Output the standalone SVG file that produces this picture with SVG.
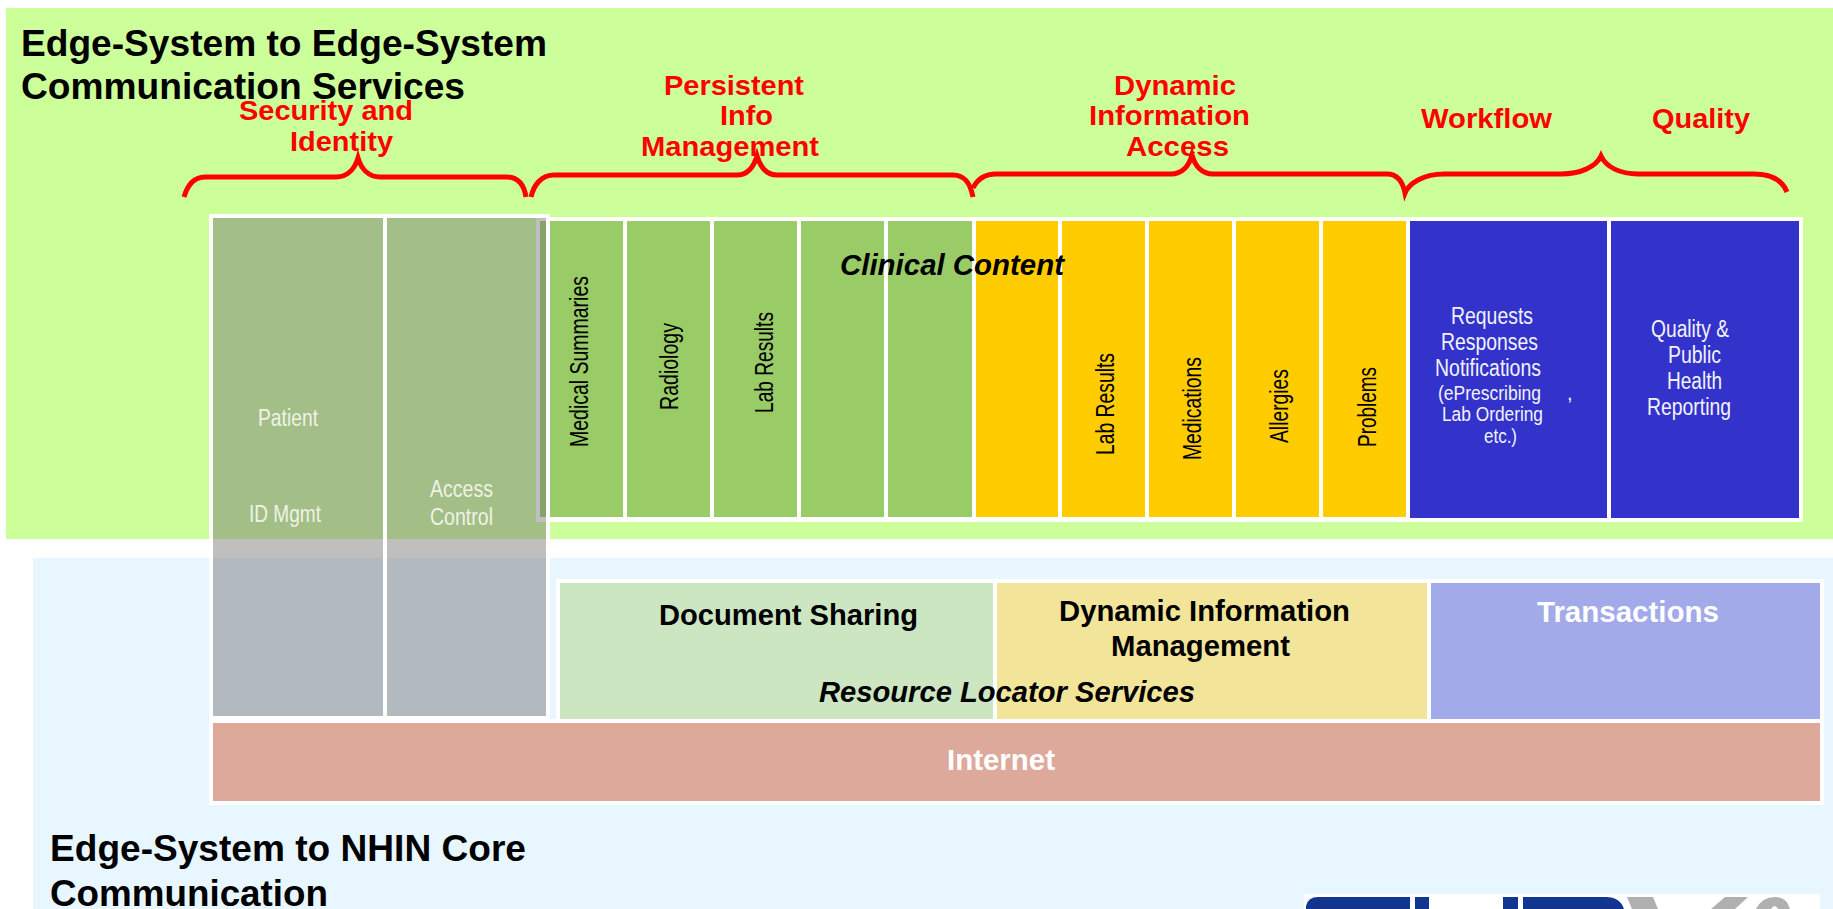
<svg xmlns="http://www.w3.org/2000/svg" width="1833" height="909" viewBox="0 0 1833 909">
<style>
text{font-family:"Liberation Sans",Arial,sans-serif}
.h{font-weight:bold;font-size:37px;fill:#000}
.r{font-weight:bold;font-size:28px;fill:#f00}
.b{font-weight:bold;font-size:29px;fill:#000}
.w{font-weight:bold;font-size:29px;fill:#fff}
.i{font-weight:bold;font-style:italic;font-size:29px;fill:#000}
.v{font-size:25px;fill:#000}
.t{font-size:23px;fill:#f2f2fa}
.s{font-size:20px;fill:#f2f2fa}
.g{font-size:23px;fill:#eef3e6}
.gc{fill:#9c6}.yc{fill:#fc0}.bc{fill:#33c}
.ov{fill:#717171;fill-opacity:.45}
.wf{fill:#fff}
.br{fill:none;stroke:#f00;stroke-width:5}
</style>
<rect id="bg-upper" x="6" y="8" width="1827" height="531" fill="#cf9"/>
<rect id="bg-lower" x="33" y="558" width="1800" height="351" fill="#e8f6ff"/>

<g id="clinical-content">
<rect class="wf" x="536" y="217" width="1267" height="305"/>
<g id="cell-medical-summaries"><rect class="gc" x="540" y="221" width="83" height="296"/><text class="v" transform="translate(588,447) rotate(-90)" textLength="171" lengthAdjust="spacingAndGlyphs">Medical Summaries</text></g>
<g id="cell-radiology"><rect class="gc" x="627" y="221" width="83" height="296"/><text class="v" transform="translate(678,410) rotate(-90)" textLength="87" lengthAdjust="spacingAndGlyphs">Radiology</text></g>
<g id="cell-lab-results"><rect class="gc" x="714" y="221" width="83" height="296"/><text class="v" transform="translate(773,413) rotate(-90)" textLength="101" lengthAdjust="spacingAndGlyphs">Lab Results</text></g>
<g id="cell-green-4"><rect class="gc" x="801" y="221" width="83" height="296"/></g>
<g id="cell-green-5"><rect class="gc" x="888" y="221" width="84" height="296"/></g>
<g id="cell-yellow-1"><rect class="yc" x="976" y="221" width="82" height="296"/></g>
<g id="cell-dyn-lab-results"><rect class="yc" x="1062" y="221" width="83" height="296"/><text class="v" transform="translate(1114,455) rotate(-90)" textLength="102" lengthAdjust="spacingAndGlyphs">Lab Results</text></g>
<g id="cell-medications"><rect class="yc" x="1149" y="221" width="83" height="296"/><text class="v" transform="translate(1201,460) rotate(-90)" textLength="103" lengthAdjust="spacingAndGlyphs">Medications</text></g>
<g id="cell-allergies"><rect class="yc" x="1236" y="221" width="83" height="296"/><text class="v" transform="translate(1288,443) rotate(-90)" textLength="74" lengthAdjust="spacingAndGlyphs">Allergies</text></g>
<g id="cell-problems"><rect class="yc" x="1323" y="221" width="83" height="296"/><text class="v" transform="translate(1376,447) rotate(-90)" textLength="80" lengthAdjust="spacingAndGlyphs">Problems</text></g>
<g id="cell-workflow">
<rect class="bc" x="1410" y="221" width="197" height="297"/>
<text class="t" x="1451" y="324" textLength="82" lengthAdjust="spacingAndGlyphs">Requests</text>
<text class="t" x="1441" y="350" textLength="97" lengthAdjust="spacingAndGlyphs">Responses</text>
<text class="t" x="1435" y="376" textLength="106" lengthAdjust="spacingAndGlyphs">Notifications</text>
<text class="s" x="1438" y="400" textLength="103" lengthAdjust="spacingAndGlyphs">(ePrescribing</text>
<text class="s" x="1567" y="400">,</text>
<text class="s" x="1442" y="421" textLength="101" lengthAdjust="spacingAndGlyphs">Lab Ordering</text>
<text class="s" x="1484" y="443" textLength="33" lengthAdjust="spacingAndGlyphs">etc.)</text>
</g>
<g id="cell-quality">
<rect class="bc" x="1611" y="221" width="188" height="297"/>
<text class="t" x="1651" y="337" textLength="78" lengthAdjust="spacingAndGlyphs">Quality &amp;</text>
<text class="t" x="1668" y="363" textLength="53" lengthAdjust="spacingAndGlyphs">Public</text>
<text class="t" x="1667" y="389" textLength="55" lengthAdjust="spacingAndGlyphs">Health</text>
<text class="t" x="1647" y="415" textLength="84" lengthAdjust="spacingAndGlyphs">Reporting</text>
</g>
</g>

<g id="transport-frame-nodes">
<rect class="wf" x="556" y="579" width="1268" height="144"/>
<g id="document-sharing"><rect x="560" y="583" width="433" height="136" fill="#cce6c2"/><text class="b" x="659" y="625" textLength="259" lengthAdjust="spacingAndGlyphs">Document Sharing</text></g>
<g id="dynamic-information-management"><rect x="997" y="583" width="430" height="136" fill="#f2e599"/><text class="b" x="1059" y="621" textLength="291" lengthAdjust="spacingAndGlyphs">Dynamic Information</text><text class="b" x="1111" y="656" textLength="179" lengthAdjust="spacingAndGlyphs">Management</text></g>
<g id="transactions"><rect x="1431" y="583" width="389" height="136" fill="#a3aaea"/><text class="w" x="1537" y="622" textLength="182" lengthAdjust="spacingAndGlyphs">Transactions</text></g>
</g>

<g id="internet">
<rect class="wf" x="209" y="719" width="1615" height="86"/>
<rect x="213" y="723" width="1607" height="78" fill="#dda99b"/>
<text class="w" x="947" y="770" textLength="108" lengthAdjust="spacingAndGlyphs">Internet</text>
</g>

<g id="security-identity">
<path class="wf" fill-rule="evenodd" d="M209 214H550V719H209ZM213 218V716H383V218ZM387 218V716H546V218Z"/>
<g id="patient-id-mgmt"><rect class="ov" x="213" y="218" width="170" height="498"/>
<text class="g" x="258" y="426" textLength="60" lengthAdjust="spacingAndGlyphs">Patient</text>
<text class="g" x="249" y="522" textLength="72" lengthAdjust="spacingAndGlyphs">ID Mgmt</text></g>
<g id="access-control"><rect class="ov" x="387" y="218" width="159" height="498"/>
<text class="g" x="430" y="497" textLength="63" lengthAdjust="spacingAndGlyphs">Access</text>
<text class="g" x="430" y="525" textLength="63" lengthAdjust="spacingAndGlyphs">Control</text></g>
</g>

<g id="connectors">
<path class="br" d="M184 197C188 184 194 177 206 177H336C348 177 355 168 358 158C361 168 368 177 380 177H506C518 177 524 184 526 197"/>
<path class="br" d="M531 197C534 184 542 175 554 175H737C748 175 754 166 757 156C760 166 766 175 777 175H953C964 175 970 182 973 197"/>
<path class="br" d="M973 188C977 180 984 174 996 174H1171C1182 174 1189 166 1192 155C1195 166 1202 174 1213 174H1387C1398 174 1403 183 1405 193C1409 183 1424 174 1444 174H1561C1580 174 1596 167 1601 156C1606 167 1620 174 1638 174H1754C1772 174 1782 180 1787 192"/>
</g>

<g id="headings">
<text class="h" x="21" y="56" textLength="526" lengthAdjust="spacingAndGlyphs">Edge-System to Edge-System</text>
<text class="h" x="21" y="99" textLength="444" lengthAdjust="spacingAndGlyphs">Communication Services</text>
<text class="h" x="50" y="861" textLength="476" lengthAdjust="spacingAndGlyphs">Edge-System to NHIN Core</text>
<text class="h" x="50" y="906" textLength="278" lengthAdjust="spacingAndGlyphs">Communication</text>
<text class="i" x="840" y="275" textLength="224" lengthAdjust="spacingAndGlyphs">Clinical Content</text>
<text class="i" x="819" y="702" textLength="376" lengthAdjust="spacingAndGlyphs">Resource Locator Services</text>
</g>

<g id="brace-labels">
<text class="r" x="239" y="120" textLength="174" lengthAdjust="spacingAndGlyphs">Security and</text>
<text class="r" x="290" y="151" textLength="103" lengthAdjust="spacingAndGlyphs">Identity</text>
<text class="r" x="664" y="95" textLength="140" lengthAdjust="spacingAndGlyphs">Persistent</text>
<text class="r" x="720" y="125" textLength="53" lengthAdjust="spacingAndGlyphs">Info</text>
<text class="r" x="641" y="156" textLength="178" lengthAdjust="spacingAndGlyphs">Management</text>
<text class="r" x="1114" y="95" textLength="122" lengthAdjust="spacingAndGlyphs">Dynamic</text>
<text class="r" x="1089" y="125" textLength="161" lengthAdjust="spacingAndGlyphs">Information</text>
<text class="r" x="1126" y="156" textLength="103" lengthAdjust="spacingAndGlyphs">Access</text>
<text class="r" x="1421" y="128" textLength="131" lengthAdjust="spacingAndGlyphs">Workflow</text>
<text class="r" x="1652" y="128" textLength="98" lengthAdjust="spacingAndGlyphs">Quality</text>
</g>

<g id="logo-fragment">
<rect class="wf" x="1304" y="894" width="516" height="15"/>
<path fill="#12358f" d="M1306 909V906Q1308 897 1318 897H1410V909ZM1415 897H1429V909H1415ZM1503 897H1518V909H1503ZM1523 897H1606Q1620 897 1624 909H1523Z"/>
<path fill="#b0b0b0" d="M1627 897H1653L1658 909H1632ZM1711 909L1725 897H1748L1735 909ZM1756 909Q1762 897 1775 897Q1787 897 1790 909H1778Q1775 903 1771 909Z"/>
</g>
</svg>
